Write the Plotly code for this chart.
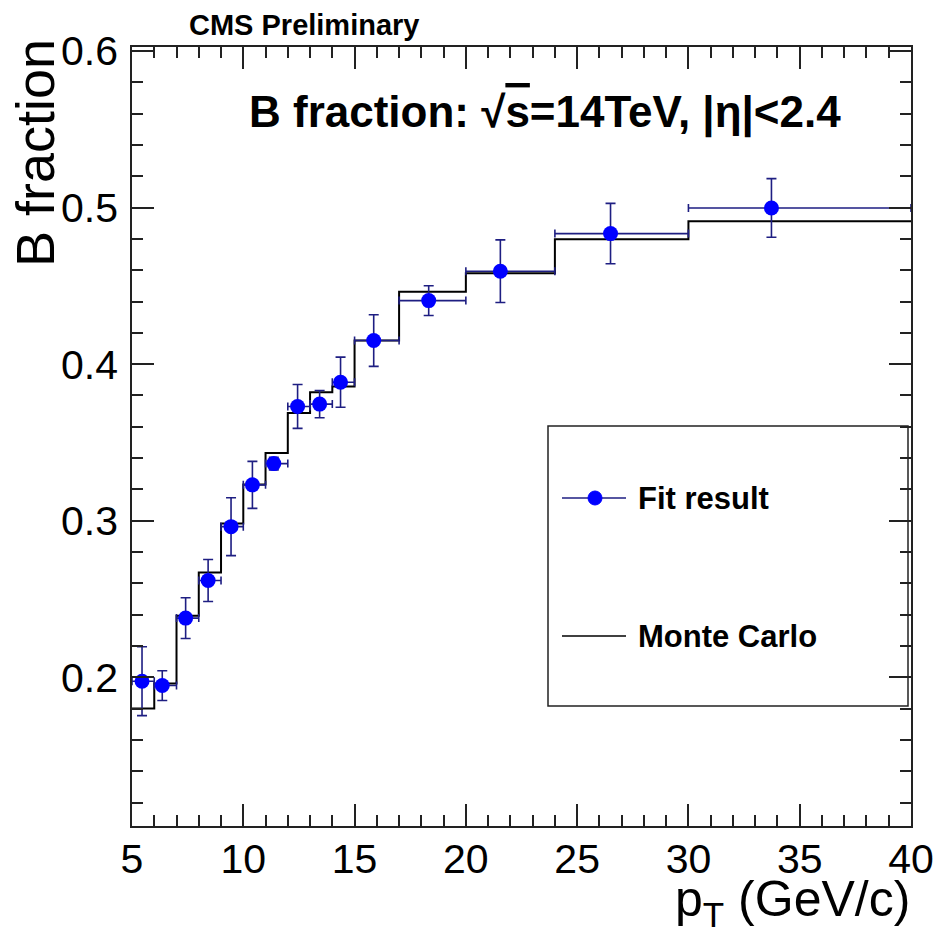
import plotly.graph_objects as go

# ---------------- data ----------------
bin_edges = [5, 6, 7, 8, 9, 10, 11, 12, 13, 14, 15, 17, 20, 24, 30, 40]
fit_pt = [5.45, 6.36, 7.41, 8.42, 9.45, 10.41, 11.37, 12.44, 13.43, 14.37, 15.86, 18.33, 21.55, 26.5, 33.73]
fit_frac = [0.1975, 0.1947, 0.2378, 0.2618, 0.2962, 0.3229, 0.3365, 0.373, 0.3745, 0.3885,
            0.4151, 0.4406, 0.4594, 0.4834, 0.4998]
fit_err = [0.022, 0.0095, 0.013, 0.0134, 0.0185, 0.015, 0.004, 0.014, 0.0087, 0.016,
           0.0165, 0.0095, 0.02, 0.0193, 0.0187]
mc_frac = [0.18, 0.196, 0.2393, 0.2669, 0.2983, 0.3231, 0.3433, 0.3688, 0.382, 0.3858,
           0.4151, 0.4463, 0.458, 0.4798, 0.4913]

x_range = [5, 40]
y_range = [0.105, 0.6026]

# ---------------- geometry ----------------
W, H = 945, 936
L, R, T, B = 132, 911, 47, 826
PW, PH = R - L, B - T
FONT = "Liberation Sans"
NAVY = "#1e1e82"


def px(x):
    return (x - L) / PW


def py(y):
    return 1 - (y - T) / PH


err_plus = [bin_edges[i + 1] - x for i, x in enumerate(fit_pt)]
err_minus = [x - bin_edges[i] for i, x in enumerate(fit_pt)]

fig = go.Figure()

# Monte Carlo step histogram
fig.add_trace(go.Scatter(
    x=bin_edges, y=mc_frac + [mc_frac[-1]],
    mode="lines", line=dict(shape="hv", color="black", width=2),
    showlegend=False, hoverinfo="skip",
))

# Fit result points
fig.add_trace(go.Scatter(
    x=fit_pt, y=fit_frac, mode="markers",
    marker=dict(color="#0000ff", size=15, symbol="circle"),
    error_y=dict(type="data", array=fit_err, color=NAVY, thickness=1.6, width=5),
    error_x=dict(type="data", symmetric=False, array=err_plus, arrayminus=err_minus,
                 color=NAVY, thickness=1.6, width=4),
    showlegend=False,
))

axis_common = dict(
    showgrid=False, zeroline=False, showline=True, linecolor="#222", linewidth=1.5,
    mirror="allticks", ticks="inside", tickcolor="#222", tickwidth=1.5, ticklen=22,
    tickfont=dict(family=FONT, size=41, color="black"),
)

fig.update_xaxes(range=x_range, tick0=5, dtick=5, ticklabelstandoff=-4,
                 minor=dict(dtick=1, ticks="inside", ticklen=11, tickwidth=1.5, tickcolor="#222"),
                 **axis_common)
fig.update_yaxes(range=y_range, tick0=0, dtick=0.1, tickformat=".1f", ticklabelstandoff=4,
                 minor=dict(dtick=0.02, ticks="inside", ticklen=11, tickwidth=1.5, tickcolor="#222"),
                 **axis_common)

annotations = [
    dict(text="<b>CMS Preliminary</b>", x=px(187), y=py(25), xanchor="left", yanchor="middle",
         font=dict(family=FONT, size=29, color="black")),
    dict(text="<b>B fraction: √<span style='text-decoration:overline'>s</span>=14TeV, |η|&lt;2.4</b>",
         x=px(247), y=py(113), xanchor="left", yanchor="middle",
         font=dict(family=FONT, size=44, color="black")),
    dict(text="B fraction", textangle=-90, x=px(3), y=py(37), xanchor="left", yanchor="top",
         font=dict(family=FONT, size=54, color="black")),
    dict(text="p<sub>T</sub> (GeV/c)", x=px(912), y=py(936), xanchor="right", yanchor="bottom",
         font=dict(family=FONT, size=50, color="black")),
    dict(text="<b>Fit result</b>", x=px(636), y=py(498), xanchor="left", yanchor="middle",
         font=dict(family=FONT, size=31, color="black")),
    dict(text="<b>Monte Carlo</b>", x=px(636), y=py(636), xanchor="left", yanchor="middle",
         font=dict(family=FONT, size=31, color="black")),
]
for a in annotations:
    a.update(xref="paper", yref="paper", showarrow=False)

shapes = [
    dict(type="rect", x0=px(548), x1=px(908), y0=py(706), y1=py(426),
         line=dict(color="#222", width=1.5), fillcolor="white", layer="below"),
    dict(type="line", x0=px(562), x1=px(626), y0=py(498), y1=py(498),
         line=dict(color=NAVY, width=1.6)),
    dict(type="circle", x0=px(588), x1=px(602), y0=py(505), y1=py(491),
         line=dict(color="#0000ff", width=1), fillcolor="#0000ff"),
    dict(type="line", x0=px(562), x1=px(626), y0=py(636), y1=py(636),
         line=dict(color="black", width=1.5)),
]
for s in shapes:
    s.update(xref="paper", yref="paper")

fig.update_layout(
    width=W, height=H,
    margin=dict(l=L, r=W - R, t=T, b=H - B, pad=0),
    paper_bgcolor="white", plot_bgcolor="rgba(0,0,0,0)",
    annotations=annotations, shapes=shapes,
    showlegend=False,
)

fig.write_html("out.html")
